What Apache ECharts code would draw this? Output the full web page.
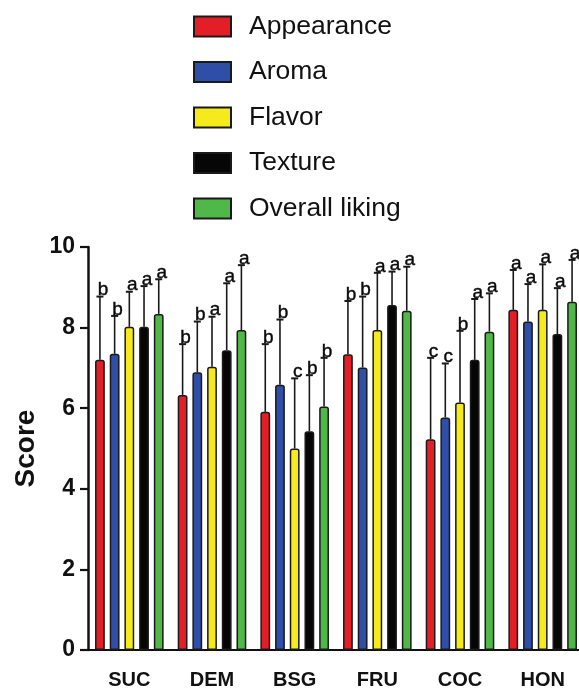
<!DOCTYPE html>
<html>
<head>
<meta charset="utf-8">
<script src="https://cdn.jsdelivr.net/npm/echarts@6/dist/echarts.min.js"></script>
<style>
html,body{margin:0;padding:0;background:#fff;}
#chart{width:579px;height:693px;}
</style>
</head>
<body>
<div id="chart"></div>
<script>
const categories = ['SUC', 'DEM', 'BSG', 'FRU', 'COC', 'HON'];
const seriesNames = ['Appearance', 'Aroma', 'Flavor', 'Texture', 'Overall liking'];

const appearance = [7.20, 6.33, 5.91, 7.34, 5.23, 8.44];
const aroma      = [7.35, 6.89, 6.58, 7.01, 5.77, 8.15];
const flavor     = [8.02, 7.03, 5.00, 7.94, 6.14, 8.44];
const texture    = [8.02, 7.44, 5.43, 8.56, 7.20, 7.84];
const overall    = [8.34, 7.94, 6.04, 8.42, 7.90, 8.64];

const appearanceSD = [1.57, 1.26, 1.68, 1.32, 2.02, 0.99];
const aromaSD      = [0.94, 1.26, 1.62, 1.76, 1.34, 0.93];
const flavorSD     = [0.87, 1.24, 1.74, 1.42, 1.78, 1.13];
const textureSD    = [1.01, 1.66, 1.39, 0.83, 1.51, 1.14];
const overallSD    = [0.86, 1.61, 1.21, 1.09, 0.95, 1.04];

const appearanceLetters = ['b', 'b', 'b', 'b', 'c', 'a'];
const aromaLetters      = ['b', 'b', 'b', 'b', 'c', 'a'];
const flavorLetters     = ['a', 'a', 'c', 'a', 'b', 'a'];
const textureLetters    = ['a', 'a', 'b', 'a', 'a', 'a'];
const overallLetters    = ['a', 'a', 'b', 'a', 'a', 'a'];

const yTicks = [0, 2, 4, 6, 8, 10];

const colors = ['#e41e26', '#2f4ea8', '#f4ea1c', '#060606', '#4fb848'];
const values = [appearance, aroma, flavor, texture, overall];
const sds = [appearanceSD, aromaSD, flavorSD, textureSD, overallSD];
const letters = [appearanceLetters, aromaLetters, flavorLetters, textureLetters, overallLetters];

const BAR_W = 9.8;
const GAP = 0.5;
const PITCH = BAR_W * (1 + GAP);
const SANS = "'Liberation Sans', Arial, sans-serif";

const chart = echarts.init(document.getElementById('chart'), null, {renderer: 'canvas'});

const barSeries = seriesNames.map((name, i) => ({
  name: name,
  type: 'bar',
  barWidth: BAR_W,
  barGap: (GAP * 100) + '%',
  data: values[i],
  itemStyle: {color: colors[i], borderColor: '#1a1a1a', borderWidth: 1.5, borderRadius: [2, 2, 0, 0]},
  emphasis: {disabled: true},
  z: 2
}));

const errSeries = seriesNames.map((name, i) => ({
  name: name + ' err',
  type: 'custom',
  z: 3,
  clip: false,
  encode: {x: 0, y: 1},
  data: categories.map((c, k) => [k, values[i][k] + sds[i][k], values[i][k]]),
  renderItem: function (params, api) {
    const k = api.value(0);
    const top = api.value(1);
    const base = api.value(2);
    const pB = api.coord([k, base]);
    const pT = api.coord([k, top]);
    const cx = pB[0] + (i - 2) * PITCH;
    return {
      type: 'group',
      children: [
        {type: 'line', shape: {x1: cx, y1: pB[1], x2: cx, y2: pT[1]}, style: {stroke: '#1a1a1a', lineWidth: 1.6}},
        {type: 'line', shape: {x1: cx - 3.5, y1: pT[1], x2: cx + 3.5, y2: pT[1]}, style: {stroke: '#1a1a1a', lineWidth: 2}},
        {type: 'text', x: cx + 3, y: pT[1] + 3,
          style: {text: letters[i][params.dataIndex], fill: '#0a0a0a', font: '19px ' + SANS, textAlign: 'center', textVerticalAlign: 'bottom', stroke: '#0a0a0a', lineWidth: 0.4}}
      ]
    };
  }
}));

chart.setOption({
  animation: false,
  backgroundColor: '#fff',
  legend: {
    data: seriesNames,
    orient: 'vertical',
    left: 188,
    top: 8,
    itemWidth: 37,
    itemHeight: 20,
    itemGap: 18.5,
    icon: 'rect',
    selectedMode: false,
    textStyle: {fontFamily: SANS, fontSize: 26.5, color: '#111', padding: [0, 0, 0, 13]}
  },
  grid: {left: 88, right: -5, top: 247, bottom: 43, containLabel: false, outerBoundsMode: 'none'},
  xAxis: {
    type: 'category',
    data: categories,
    axisLine: {lineStyle: {color: '#111', width: 2.2}},
    axisTick: {alignWithLabel: true, length: 10, lineStyle: {color: '#111', width: 2.2}},
    axisLabel: {margin: 20, fontFamily: SANS, fontWeight: 'bold', fontSize: 20, color: '#111'},
    splitLine: {show: false}
  },
  yAxis: {
    type: 'value',
    min: yTicks[0],
    max: yTicks[yTicks.length - 1],
    interval: 2,
    name: 'Score',
    nameLocation: 'middle',
    nameRotate: 90,
    nameGap: 48,
    nameMoveOverlap: false,
    nameTextStyle: {fontFamily: SANS, fontWeight: 'bold', fontSize: 28, color: '#111'},
    axisLine: {show: true, lineStyle: {color: '#111', width: 2.5}},
    axisTick: {show: true, length: 8, lineStyle: {color: '#111', width: 2.2}},
    axisLabel: {margin: 13, fontFamily: SANS, fontWeight: 'bold', fontSize: 23, color: '#111'},
    splitLine: {show: false}
  },
  series: barSeries.concat(errSeries)
});
</script>
</body>
</html>
